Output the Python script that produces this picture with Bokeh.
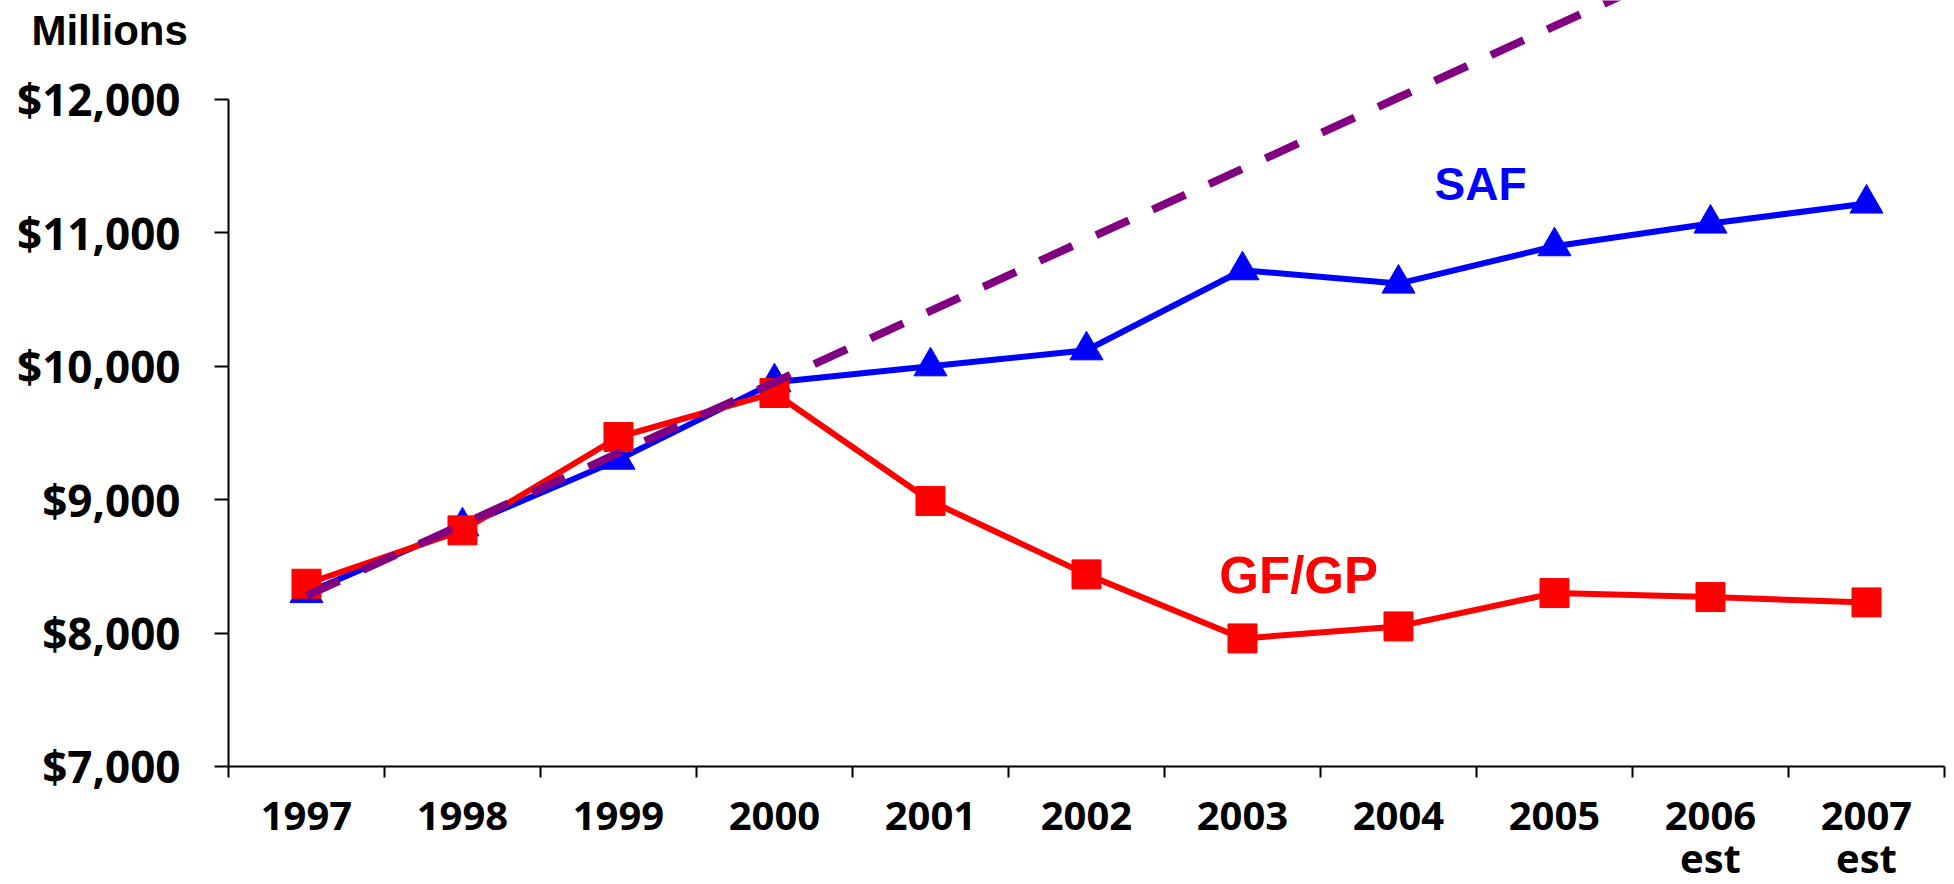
from bokeh.plotting import figure
from bokeh.models import Range1d, FixedTicker, NumeralTickFormatter, Label
from bokeh.embed import file_html
from bokeh.resources import INLINE

# ---- data ----
years = ["1997", "1998", "1999", "2000", "2001", "2002", "2003", "2004", "2005", "2006", "2007"]
year_labels = ["1997", "1998", "1999", "2000", "2001", "2002", "2003", "2004", "2005", "2006\nest", "2007\nest"]
saf = [8300, 8800, 9300, 9880, 10000, 10120, 10720, 10620, 10900, 11070, 11220]
gfgp = [8370, 8770, 9470, 9800, 8990, 8440, 7960, 8050, 8300, 8270, 8230]
trend = [8280, 8815, 9350, 9880, 10415, 10950, 11480, 12015, 12550, 13080, 13610]
y_ticks = [7000, 8000, 9000, 10000, 11000, 12000]

x = list(range(len(years)))
boundaries = [i - 0.5 for i in range(len(years) + 1)]

BLUE = "#0000FF"
RED = "#FF0000"
PURPLE = "#800080"

# frame covers the whole canvas; axes are drawn at fixed locations inside it
p = figure(width=1954, height=884,
           x_range=Range1d(-1.9615, 10.5641), y_range=Range1d(6115.4, 12742.1),
           output_backend="svg", toolbar_location=None,
           min_border_left=0, min_border_right=0,
           min_border_top=0, min_border_bottom=0)
p.outline_line_color = None
p.xgrid.visible = False
p.ygrid.visible = False
p.background_fill_color = "white"
p.border_fill_color = "white"

# x axis
p.xaxis.fixed_location = 7000
p.xaxis.bounds = (-0.5, 10.5)
p.xaxis.ticker = FixedTicker(ticks=x, minor_ticks=boundaries)
p.xaxis.major_label_overrides = {i: lab for i, lab in zip(x, year_labels)}
p.xaxis.major_tick_out = 0
p.xaxis.major_tick_in = 0
p.xaxis.minor_tick_out = 11
p.xaxis.minor_tick_in = 0
p.xaxis.minor_tick_line_width = 2
p.xaxis.minor_tick_line_color = "black"
p.xaxis.axis_line_width = 2
p.xaxis.axis_line_color = "black"
p.xaxis.major_label_standoff = 10
p.xaxis.major_label_text_font = "Open Sans"
p.xaxis.major_label_text_font_style = "bold"
p.xaxis.major_label_text_font_size = "40px"
p.xaxis.major_label_text_color = "black"
p.xaxis.major_label_text_line_height = 0.78

# y axis
p.yaxis.fixed_location = -0.5
p.yaxis.ticker = FixedTicker(ticks=y_ticks)
p.yaxis.formatter = NumeralTickFormatter(format="$0,0")
p.yaxis.bounds = (7000, 12000)
p.yaxis.minor_tick_line_color = None
p.yaxis.major_tick_out = 14
p.yaxis.major_tick_in = 0
p.yaxis.major_tick_line_width = 2
p.yaxis.major_tick_line_color = "black"
p.yaxis.axis_line_width = 2
p.yaxis.axis_line_color = "black"
p.yaxis.major_label_standoff = 34
p.yaxis.major_label_text_font = "Open Sans"
p.yaxis.major_label_text_font_style = "bold"
p.yaxis.major_label_text_font_size = "44px"
p.yaxis.major_label_text_color = "black"

# series
p.line(x, saf, line_color=BLUE, line_width=6)
p.scatter(x, saf, marker="triangle", size=33, fill_color=BLUE, line_color=BLUE)
p.line(x, gfgp, line_color=RED, line_width=6)
p.scatter(x, gfgp, marker="square", size=29, fill_color=RED, line_color=RED)
p.line(x, trend, line_color=PURPLE, line_width=8, line_dash="36 26")

# labels
p.add_layout(Label(x=7.526, y=11370, text="SAF", text_align="center", text_baseline="alphabetic",
                   text_font="Liberation Sans", text_font_style="bold", text_font_size="46px",
                   text_color=BLUE))
p.add_layout(Label(x=6.36, y=8432, text="GF/GP", text_align="center", text_baseline="alphabetic",
                   text_font="Liberation Sans", text_font_style="bold", text_font_size="51px",
                   text_color=RED))
p.add_layout(Label(x=-1.763, y=12517, text="Millions", text_align="left", text_baseline="alphabetic",
                   text_font="Liberation Sans", text_font_style="bold", text_font_size="42px",
                   text_color="black"))

open("out.html", "w").write(file_html(p, INLINE))
